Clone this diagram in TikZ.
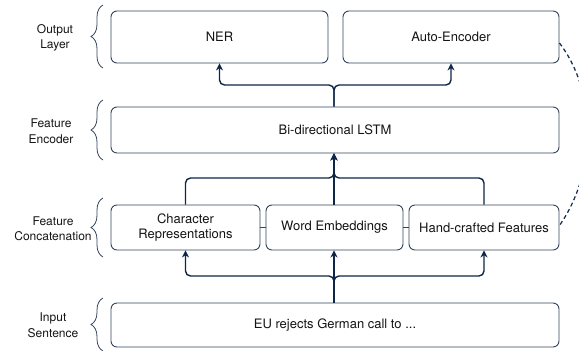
\documentclass[tikz,border=0pt]{standalone}
\usepackage{fontspec}
\setmainfont{TeX Gyre Heros}
\usetikzlibrary{arrows.meta,decorations.pathreplacing}
\definecolor{boxline}{HTML}{34445A}
\definecolor{arrline}{HTML}{0E2645}
\definecolor{txt}{HTML}{141414}
\tikzset{
  blk/.style={draw=boxline, line width=0.9pt, rounded corners=6pt, fill=white, inner sep=0pt,
    text=txt, font=\fontsize{13}{15.5}\selectfont, align=center},
  lbl/.style={text=txt, font=\fontsize{12}{15.5}\selectfont, align=center, inner sep=0pt},
  arr/.style={draw=arrline, line width=1.4pt, rounded corners=5pt, -{Stealth[length=7pt,width=7pt]}},
  link/.style={draw=boxline, line width=0.9pt},
  brc/.style={draw=boxline, line width=0.8pt, decorate, decoration={brace, amplitude=12pt}},
  dsh/.style={draw=arrline, line width=1.2pt, dash pattern=on 4pt off 3pt}
}
\begin{document}
\begin{tikzpicture}[x=1pt,y=-1pt]
\useasboundingbox (0,0) rectangle (579,351);
% boxes
\node[blk, minimum width=217pt, minimum height=52pt] (ner) at (219.5,37) {NER};
\node[blk, minimum width=216pt, minimum height=52pt] (ae) at (451,37) {Auto-Encoder};
\node[blk, minimum width=448pt, minimum height=46pt] (lstm) at (335,130) {Bi-directional LSTM};
\node[blk, minimum width=149pt, minimum height=45pt] (cr) at (185.5,227.5) {Character\\Representations};
\node[blk, minimum width=137pt, minimum height=45pt] (we) at (334.5,227.5) {Word Embeddings};
\node[blk, minimum width=150pt, minimum height=45pt] (hf) at (484,227.5) {Hand-crafted Features};
\node[blk, minimum width=448pt, minimum height=44pt] (inp) at (335,325) {EU rejects German call to ...};
% links between concatenated boxes
\draw[link] (cr.east) -- (we.west);
\draw[link] (we.east) -- (hf.west);
% junction coordinates
\coordinate (jtop) at (334,85);
\coordinate (jmid) at (334,178);
\coordinate (jbot) at (334,276);
% output layer arrows
\draw[arr] (lstm.north -| jtop) -- (jtop) -| (ner.south);
\draw[arr] (lstm.north -| jtop) -- (jtop) -| (ae.south);
% concat to LSTM
\draw[arr] (cr.north) |- (jmid) -- (lstm.south -| jmid);
\draw[arr] (hf.north) |- (jmid) -- (lstm.south -| jmid);
\draw[arr] (we.north -| jmid) -- (lstm.south -| jmid);
% input to concat
\draw[arr] (inp.north -| jbot) -- (jbot) -| (cr.south);
\draw[arr] (inp.north -| jbot) -- (jbot) -| (hf.south);
\draw[arr] (inp.north -| jbot) -- (we.south -| jbot);
% dashed curve
\draw[dsh] ([yshift=-6pt]ae.east) .. controls (597,92) and (597,172) .. ([yshift=2pt]hf.east);
% braces
\draw[brc] (103,68) -- (103,5);
\draw[brc] (103,160) -- (103,100);
\draw[brc] (103,257) -- (103,198);
\draw[brc] (103,351) -- (103,298);
% labels
\node[lbl] (l1) at (55,38) {Output\\Layer};
\node[lbl] (l2) at (51,131) {Feature\\Encoder};
\node[lbl] (l3) at (53,228.5) {Feature\\Concatenation};
\node[lbl] (l4) at (53,325) {Input\\Sentence};
\end{tikzpicture}
\end{document}
